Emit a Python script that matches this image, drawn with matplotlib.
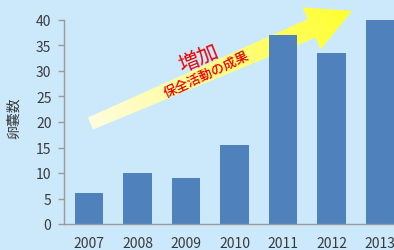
import numpy as np
import matplotlib
matplotlib.use("Agg")
import matplotlib.pyplot as plt
from matplotlib.patches import Polygon

plt.rcParams['font.family'] = ['Noto Sans CJK JP', 'DejaVu Sans']

years = ['2007', '2008', '2009', '2010', '2011', '2012', '2013']
counts = [6, 10, 9, 15.5, 37, 33.5, 40]
ylabel = '卵嚢数'
big_note = '増加'
small_note = '保全活動の成果'

bg = '#cce9fb'
bar_col = '#4f81bd'
txt_col = '#3a3a3a'

fig = plt.figure(figsize=(3.94, 2.51), dpi=100, facecolor=bg)

# overlay in pixel coordinates for the arrow and notes (behind the bars)
ov = fig.add_axes([0, 0, 1, 1], facecolor=bg, zorder=0)
ov.set_xlim(0, 394)
ov.set_ylim(251, 0)
ov.axis('off')

ax = fig.add_axes([64 / 394, 26 / 251, 1 - 64 / 394, 204 / 251], zorder=1)
ax.set_facecolor('none')

x = np.arange(len(years))
ax.bar(x, counts, width=0.58, color=bar_col, zorder=2)
ax.set_xlim(-0.515, 6.29)
ax.set_ylim(0, 40)
ax.set_xticks(x)
ax.set_xticklabels(years)
ax.set_yticks(np.arange(0, 41, 5))

for s in ['top', 'right']:
    ax.spines[s].set_visible(False)
for s in ['left', 'bottom']:
    ax.spines[s].set_color('#9a9a9a')
    ax.spines[s].set_linewidth(1.0)
ax.tick_params(axis='x', length=0, pad=9, labelsize=10, colors=txt_col)
ax.tick_params(axis='y', length=4, width=1, color='#9a9a9a', pad=5,
               labelsize=10, labelcolor=txt_col)

fig.text(14 / 394, 1 - 118 / 251, ylabel, rotation=90, ha='center',
         va='center', fontsize=10, color=txt_col)

tail = np.array([90.5, 124.5])
tip = np.array([352.0, 12.0])
d = tip - tail
L = np.hypot(*d)
u = d / L
n = np.array([-u[1], u[0]])
base = tail + (L - 44) * u
pts = [tail + 6.5 * n, base + 10 * n, base + 23 * n, tip,
       base - 23 * n, base - 10 * n, tail - 6.5 * n]
poly = Polygon(pts, closed=True, facecolor='none', edgecolor='none')
ov.add_patch(poly)

gx, gy = np.meshgrid(np.arange(0, 394), np.arange(0, 251))
t = ((gx - tail[0]) * u[0] + (gy - tail[1]) * u[1]) / L
t = np.clip(t, 0, 1)
c0 = np.array([255, 252, 222]) / 255
c1 = np.array([255, 255, 45]) / 255
img = c0[None, None, :] * (1 - t[..., None]) + c1[None, None, :] * t[..., None]
im = ov.imshow(img, extent=(0, 394, 251, 0), zorder=3, interpolation='bilinear')
im.set_clip_path(poly)
ov.set_xlim(0, 394)
ov.set_ylim(251, 0)

ov.text(199, 59, big_note, rotation=22, ha='center', va='center',
        fontsize=15, color='#ee0000', zorder=4)
ov.text(207, 75, small_note, rotation=25, ha='center', va='center',
        fontsize=9.5, color='#ee0000', fontweight='medium', zorder=4)

fig.savefig('out.png', dpi=100, facecolor=bg)
